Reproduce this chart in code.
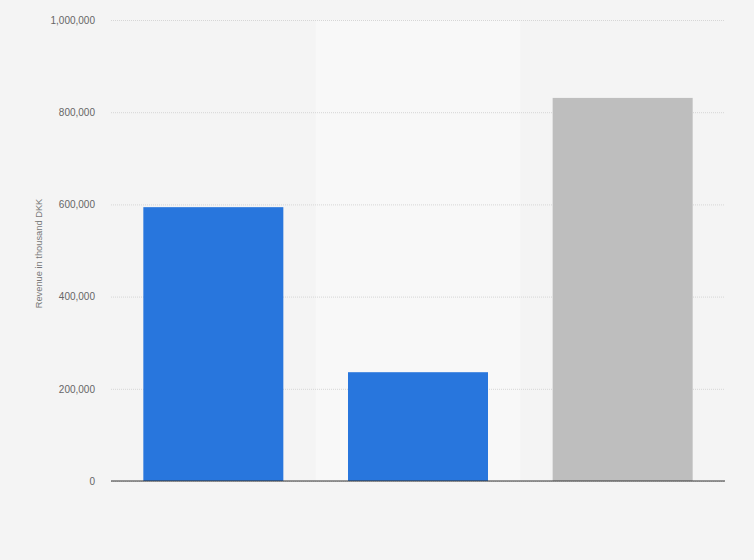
<!DOCTYPE html>
<html>
<head>
<meta charset="utf-8">
<script src="https://cdn.jsdelivr.net/npm/d3@7"></script>
<style>
  html, body { margin: 0; padding: 0; background: #f4f4f4; }
  svg { display: block; font-family: 'Liberation Sans', Arial, sans-serif; }
</style>
</head>
<body>
<div id="chart"></div>
<script>
let categories = ['Category 1', 'Category 2', 'Category 3']
let values = [594000, 236000, 831000]
let barColors = ['#2876dd', '#2876dd', '#bebebe']
let yTicks = [0, 200000, 400000, 600000, 800000, 1000000]

let margin = { top: 20, left: 111, right: 29, bottom: 79 }
let width = 754 - margin.left - margin.right
let height = 560 - margin.top - margin.bottom

let svg = d3
  .select('#chart')
  .append('svg')
  .attr('width', width + margin.left + margin.right)
  .attr('height', height + margin.top + margin.bottom)

svg
  .append('rect')
  .attr('width', 754)
  .attr('height', 560)
  .attr('fill', '#f4f4f4')

let holder = svg
  .append('g')
  .attr('transform', `translate(${margin.left},${margin.top})`)

let xScale = d3
  .scaleBand()
  .domain(categories)
  .range([0, width])
  .paddingInner(0)
  .paddingOuter(0)

let yScale = d3
  .scaleLinear()
  .domain([0, 1000000])
  .range([height, 0])

// lighter band behind every other category
holder
  .selectAll('.band')
  .data(categories.filter((d, i) => i % 2 === 1))
  .enter()
  .append('rect')
  .attr('class', 'band')
  .attr('x', d => xScale(d))
  .attr('y', 0)
  .attr('width', xScale.bandwidth())
  .attr('height', height)
  .attr('fill', '#f8f8f8')

let yAxis = d3
  .axisLeft(yScale)
  .tickValues(yTicks)
  .tickSize(-width)
  .tickPadding(14)
  .tickFormat(d3.format(','))

holder
  .append('g')
  .attr('class', 'y-axis')
  .call(yAxis)
  .call(g => g.select('.domain').remove())
  .call(g =>
    g
      .selectAll('.tick line')
      .attr('stroke', '#d6d6d6')
      .attr('stroke-dasharray', '1,1')
  )
  .call(g =>
    g
      .selectAll('.tick text')
      .attr('fill', '#666')
      .attr('font-size', 10)
      .attr('x', -16)
  )

let barWidth = 140
holder
  .selectAll('.bar')
  .data(values)
  .enter()
  .append('rect')
  .attr('class', 'bar')
  .attr('x', (d, i) => xScale(categories[i]) + (xScale.bandwidth() - barWidth) / 2)
  .attr('y', d => yScale(d))
  .attr('width', barWidth)
  .attr('height', d => height - yScale(d))
  .attr('fill', (d, i) => barColors[i])

holder
  .append('line')
  .attr('x1', 0)
  .attr('x2', width)
  .attr('y1', height)
  .attr('y2', height)
  .attr('stroke', '#333')
  .attr('stroke-width', 1.2)

svg
  .append('text')
  .attr('transform', `translate(42,${margin.top + yScale(500000) + 3}) rotate(-90)`)
  .attr('text-anchor', 'middle')
  .attr('font-size', 9.3)
  .attr('fill', '#777')
  .text('Revenue in thousand DKK')
</script>
</body>
</html>
